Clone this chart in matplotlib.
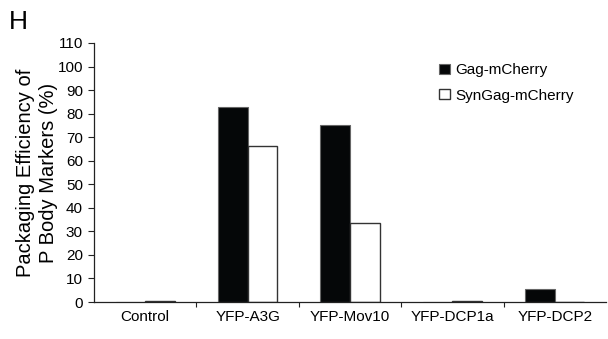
import matplotlib
matplotlib.use("Agg")
import matplotlib.pyplot as plt
import numpy as np

plt.rcParams['font.family'] = ['Liberation Sans', 'DejaVu Sans']

categories = ["Control", "YFP-A3G", "YFP-Mov10", "YFP-DCP1a", "YFP-DCP2"]
gag = [0.0, 82.8, 75.2, 0.0, 5.6]
syngag = [0.5, 66.1, 33.4, 0.5, 0.0]
series_names = ["Gag-mCherry", "SynGag-mCherry"]
yticks = list(range(0, 111, 10))

fig = plt.figure(figsize=(6.08, 3.39), dpi=100)
ax = fig.add_axes([94 / 608, 1 - 302 / 339, 512 / 608, 259 / 339])

x = np.arange(len(categories))
w = 0.29
ax.bar(x - w / 2, gag, w, color="#050708", edgecolor="#666666", linewidth=0.8, label=series_names[0])
ax.bar(x + w / 2, syngag, w, color="white", edgecolor="#333333", linewidth=1.0, label=series_names[1])

ax.set_xlim(-0.5, len(categories) - 0.5)
ax.set_ylim(0, 110)
ax.set_yticks(yticks)
ax.tick_params(axis='y', labelsize=11, length=4, width=0.8, pad=4, color="#222222")
ax.set_xticks(x)
ax.set_xticklabels(categories, fontsize=11)
ax.set_xticks(np.arange(0.5, len(categories) - 0.5, 1), minor=True)
ax.tick_params(axis='x', which='major', length=0, pad=6)
ax.tick_params(axis='x', which='minor', length=3.5, width=0.8, color="#222222")

for s in ["top", "right"]:
    ax.spines[s].set_visible(False)
for s in ["left", "bottom"]:
    ax.spines[s].set_linewidth(0.9)
    ax.spines[s].set_color("#222222")

fig.text(37 / 608, 1 - 172.5 / 339, "Packaging Efficiency of\nP Body Markers (%)",
         fontsize=14.5, rotation=90, ha="center", va="center", linespacing=1.3,
         multialignment="center")

ax.legend(loc="upper left", bbox_to_anchor=(0.658, 0.952), frameon=False, fontsize=11,
          borderpad=0, handlelength=0.72, handleheight=0.65, handletextpad=0.4,
          labelspacing=0.75)

fig.text(9 / 608, 1 - 22 / 339, "H", fontsize=19, va="center", ha="left")

fig.savefig("out.png", dpi=100)
